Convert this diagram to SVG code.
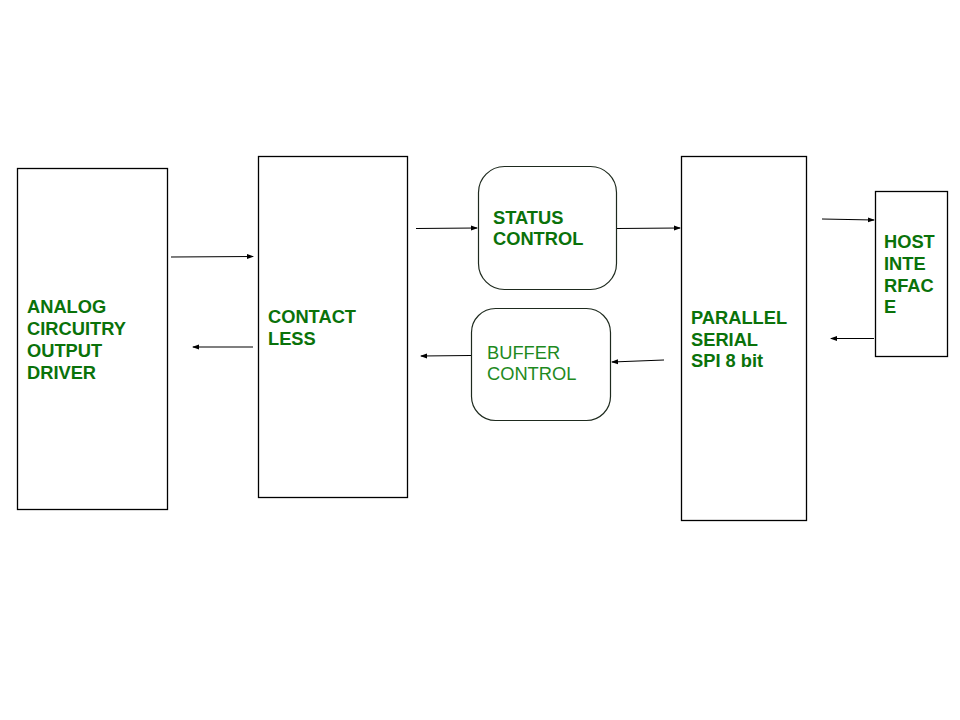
<svg xmlns="http://www.w3.org/2000/svg" width="960" height="720" viewBox="0 0 960 720">
<defs>
<style>
.box{fill:#fff;stroke:#000;stroke-width:1.3}
.rbox{fill:#fff;stroke:#1e2a1e;stroke-width:1.2}
.t{font-family:"Liberation Sans",Arial,sans-serif;font-size:18.3px;font-weight:bold;fill:#0a720a}
.tn{font-family:"Liberation Sans",Arial,sans-serif;font-size:18.3px;fill:#1e8a1e}
.c{stroke:#000;stroke-width:1.2;fill:none;marker-end:url(#ah)}
</style>
<marker id="ah" markerWidth="7" markerHeight="6" refX="6" refY="3" orient="auto" markerUnits="userSpaceOnUse">
<path d="M0,0.5 L7,3 L0,5.5 Z" fill="#000"/>
</marker>
</defs>
<rect width="960" height="720" fill="#fff"/>
<g id="analog">
<rect class="box" x="17.5" y="168.5" width="150" height="341"/>
<text class="t" x="27" y="313">ANALOG</text>
<text class="t" x="27" y="335">CIRCUITRY</text>
<text class="t" x="27" y="357">OUTPUT</text>
<text class="t" x="27" y="379">DRIVER</text>
</g>
<g id="contactless">
<rect class="box" x="258.5" y="156.5" width="149" height="341"/>
<text class="t" x="268" y="323">CONTACT</text>
<text class="t" x="268" y="345">LESS</text>
</g>
<g id="status">
<rect class="rbox" x="478.5" y="166.5" width="138" height="123" rx="26" ry="26"/>
<text class="t" x="493" y="224">STATUS</text>
<text class="t" x="493" y="245">CONTROL</text>
</g>
<g id="buffer">
<rect class="rbox" x="471.5" y="308.5" width="139" height="112" rx="24" ry="24"/>
<text class="tn" x="487" y="359">BUFFER</text>
<text class="tn" x="487" y="380">CONTROL</text>
</g>
<g id="parallel">
<rect class="box" x="681.5" y="156.5" width="125" height="364"/>
<text class="t" x="691" y="324">PARALLEL</text>
<text class="t" x="691" y="346">SERIAL</text>
<text class="t" x="691" y="367">SPI 8 bit</text>
</g>
<g id="host">
<rect class="box" x="875.5" y="191.5" width="72" height="165"/>
<text class="t" x="884" y="248">HOST</text>
<text class="t" x="884" y="270">INTE</text>
<text class="t" x="884" y="292">RFAC</text>
<text class="t" x="884" y="313">E</text>
</g>
<g id="connectors">
<line class="c" x1="171" y1="257" x2="253" y2="256.5"/>
<line class="c" x1="253" y1="347" x2="193" y2="347"/>
<line class="c" x1="416" y1="228.5" x2="477" y2="228"/>
<line class="c" x1="617" y1="228.5" x2="680" y2="228"/>
<line class="c" x1="471" y1="355.5" x2="421" y2="356"/>
<line class="c" x1="664" y1="360" x2="612" y2="362"/>
<line class="c" x1="822" y1="219" x2="874" y2="220"/>
<line class="c" x1="874" y1="338.5" x2="831" y2="338.5"/>
</g>
</svg>
